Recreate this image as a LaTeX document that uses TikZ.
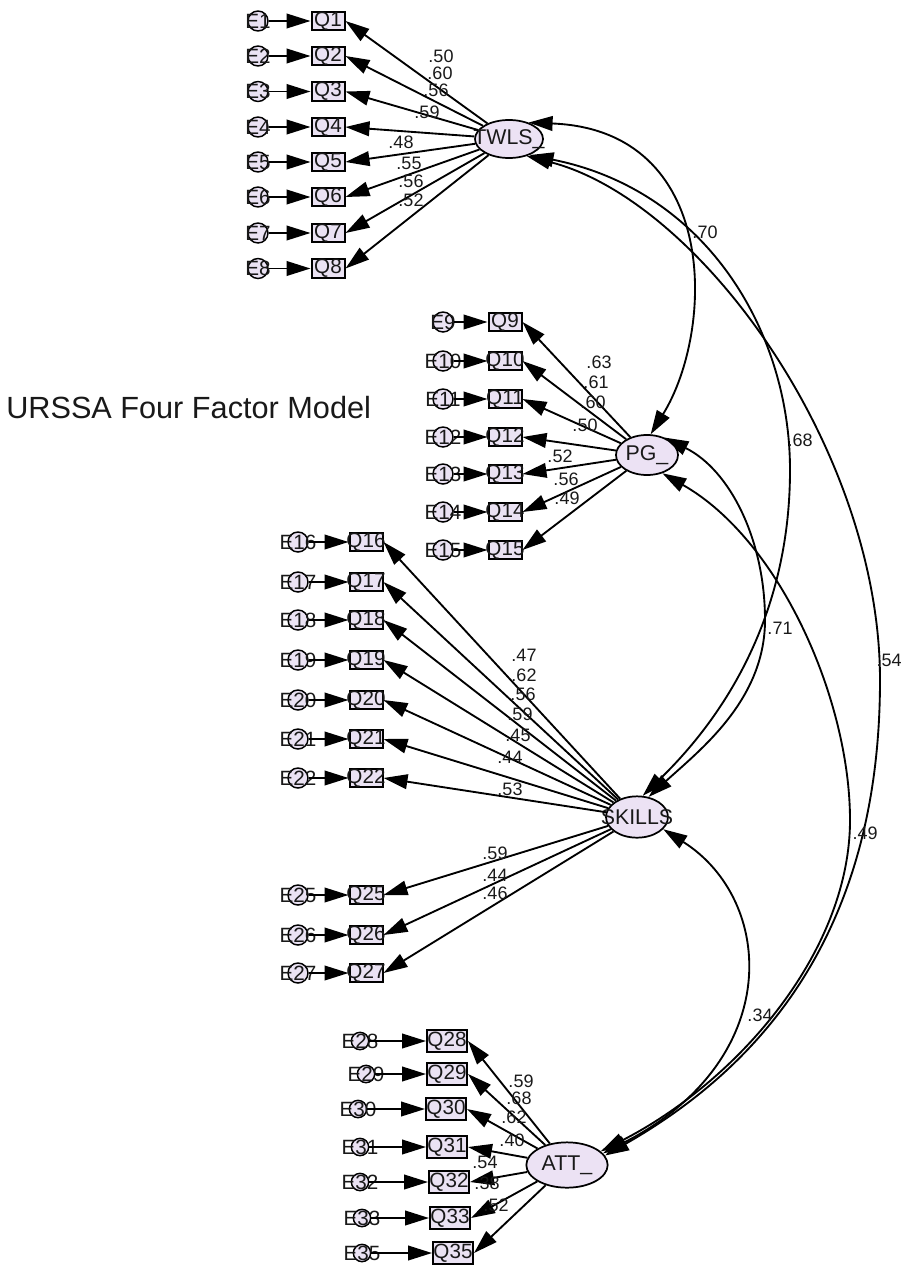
\documentclass[tikz,border=0pt]{standalone}
\usepackage{fontspec}
\setmainfont{Liberation Sans}
\usetikzlibrary{shapes.geometric,arrows.meta}
\definecolor{nfill}{RGB}{234,226,243}
\definecolor{lfill}{RGB}{236,226,244}
\definecolor{txt}{RGB}{25,25,25}
\begin{document}
\begin{tikzpicture}[x=0.75pt,y=-0.75pt,
 >={Triangle[length=18pt,width=11pt]},
 ln/.style={line width=1.4pt},
 obs/.style={draw, line width=1.5pt, fill=nfill, rectangle, minimum width=24.75pt, minimum height=14pt, inner sep=0pt},
 obsw/.style={obs, minimum width=30pt, minimum height=16pt},
 err/.style={draw, line width=1.1pt, fill=nfill, circle, minimum size=15pt, inner sep=0pt},
 errs/.style={err, minimum size=13pt},
 lat/.style={draw, line width=1.3pt, fill=lfill, ellipse, inner sep=0pt},
 qtxt/.style={font=\fontsize{15.5}{15.5}\selectfont, text=txt, inner sep=0pt},
 ltxt/.style={font=\fontsize{16}{16}\selectfont, text=txt, inner sep=0pt},
 num/.style={font=\fontsize{13.5}{13.5}\selectfont, text=txt, inner sep=0pt},
 load/.style={ln,->},
 eq/.style={ln,->},
 cov/.style={ln,<->},
]
\useasboundingbox (0,0) rectangle (903,1270);

% title
\node[anchor=west, font=\fontsize{23}{23}\selectfont, text=txt, inner sep=0pt] (title) at (6,408) {URSSA Four Factor Model};

% latent variables
\node[lat, minimum width=51pt, minimum height=28.5pt, label={[ltxt]center:TWLS\_}] (TWLS) at (509,139) {};
\node[lat, minimum width=46.5pt, minimum height=30pt, label={[ltxt]center:PG\_}] (PG) at (647,455) {};
\node[lat, minimum width=46.5pt, minimum height=31pt, label={[ltxt]center:SKILLS}] (SKILLS) at (637,817) {};
\node[lat, minimum width=61pt, minimum height=34pt, label={[ltxt]center:ATT\_}] (ATT) at (567,1165) {};

% TWLS group
\foreach \i/\y in {1/21,2/56,3/91.5,4/127,5/162,6/197,7/233,8/268.5}{
  \node[err, label={[qtxt]center:E\i}] (E\i) at (258,\y) {};
  \node[obs, label={[qtxt]center:Q\i}] (Q\i) at (328,\y) {};
  \draw[eq] (E\i) -- (Q\i);
  \draw[load] (TWLS) -- (Q\i.east);
}
% PG group
\foreach \i/\y in {9/322,10/361,11/399,12/437,13/474,14/512,15/550}{
  \node[err, label={[qtxt]center:E\i}] (E\i) at (443,\y) {};
  \node[obs, label={[qtxt]center:Q\i}] (Q\i) at (505,\y) {};
  \draw[eq] (E\i) -- (Q\i);
  \draw[load] (PG) -- (Q\i.east);
}
% SKILLS group
\foreach \i/\y in {16/542,17/582,18/620,19/660,20/700,21/739,22/778,25/895,26/935,27/973}{
  \node[err, label={[qtxt]center:E\i}] (E\i) at (298,\y) {};
  \node[obs, label={[qtxt]center:Q\i}] (Q\i) at (366,\y) {};
  \draw[eq] (E\i) -- (Q\i);
  \draw[load] (SKILLS) -- (Q\i.east);
}
% ATT group
\foreach \i/\ex/\qx/\y in {28/360/447/1041,29/366/447/1074,30/358/446/1109,31/360/447/1147,32/360/449/1182,33/362/450/1218,35/362/453/1253}{
  \node[errs, label={[qtxt]center:E\i}] (E\i) at (\ex,\y) {};
  \node[obsw, label={[qtxt]center:Q\i}] (Q\i) at (\qx,\y) {};
  \draw[eq] (E\i) -- (Q\i);
  \draw[load] (ATT) -- (Q\i.east);
}

% loading labels
\foreach \t/\x/\y [count=\k] in {.50/441/56,.60/440/73,.56/436/90,.59/427/112,.48/401/142,.55/409/163,.56/411/181,.52/411/200,
  .63/599/362,.61/596/382,.60/593/402,.50/585/425,.52/560/456,.56/566/479,.49/567/498,
  .47/524/655,.62/524/675,.56/523/694,.59/520/714,.45/518/735,.44/510/757,.53/510/789,.59/495/853,.44/495/875,.46/495/893,
  .59/521/1081,.68/519/1098,.62/514/1117,.40/512/1140,.54/485/1162,.38/487/1183,.52/496/1205}{
  \node[num] (w\k) at (\x,\y) {\t};
}

% covariances
\draw[cov] (TWLS.40) .. controls (720,130) and (715,330) .. (PG.80);
\draw[cov] (TWLS.-38) .. controls (705,190) and (790,330) .. (790,470) .. controls (790,640) and (700,740) .. (SKILLS.75);
\draw[cov] (PG.45) .. controls (730,470) and (765,540) .. (765,620) .. controls (765,700) and (700,750) .. (SKILLS.60);
\draw[cov] (TWLS.-44) .. controls (700,200) and (880,450) .. (880,680) .. controls (880,900) and (790,1050) .. (ATT.14);
\draw[cov] (PG.-50) .. controls (780,540) and (850,700) .. (850,820) .. controls (850,950) and (740,1080) .. (ATT.22);
\draw[cov] (SKILLS.-25) .. controls (775,900) and (785,1060) .. (ATT.18);

\node[num] (c1) at (705,232) {.70};
\node[num] (c2) at (800,440) {.68};
\node[num] (c3) at (780,628) {.71};
\node[num, anchor=east] (c4) at (902,660) {.54};
\node[num] (c5) at (865,833) {.49};
\node[num] (c6) at (760,1015) {.34};
\end{tikzpicture}
\end{document}
